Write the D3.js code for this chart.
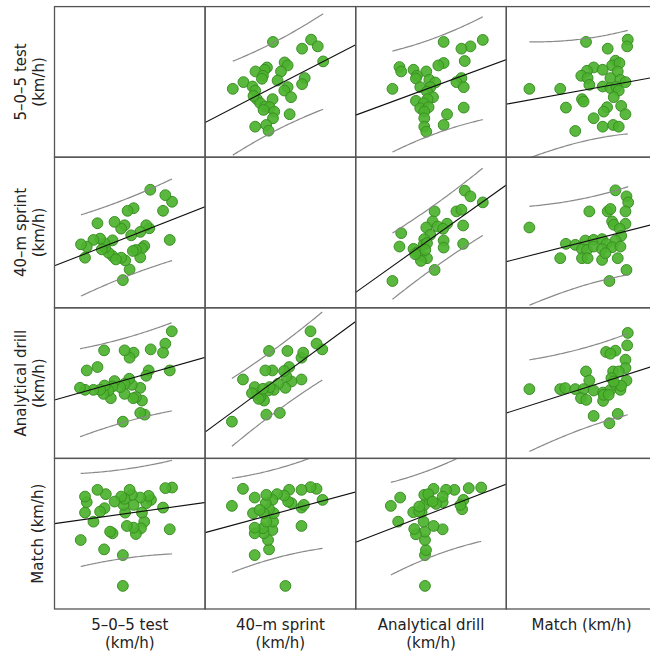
<!DOCTYPE html>
<html><head><meta charset="utf-8">
<script src="https://cdn.jsdelivr.net/npm/d3@7"></script>
<style>html,body{margin:0;padding:0;background:#fff;}svg{display:block;}</style>
</head><body>
<script>
// Variables (order of rows / columns)
const varLabels = [["5–0–5 test","(km/h)"],["40–m sprint","(km/h)"],["Analytical drill","(km/h)"],["Match (km/h)"]];
// Each variable on a common index scale
const varDomain = [0, 150];

// Pair data: [column variable, row variable] for the upper-triangle cell
// sprint (x) vs 5-0-5 (y)
const sprintVs505 = [[67.6,114.8],[105.6,117.1],[112.2,110.4],[96.6,108.1],[117.6,95.4],[79.2,94.4],[82.2,91.4],[61.6,89.4],[59.2,87.1],[50.2,85.4],[75.6,85.4],[57.6,81.1],[56.6,78.1],[72.2,76.4],[99.2,78.8],[96.6,72.8],[38.2,74.8],[27.6,68.1],[47.2,70.4],[49.9,66.4],[82.2,69.8],[78.9,66.4],[85.6,59.8],[51.6,57.8],[67.2,57.8],[54.9,53.8],[59.9,50.4],[64.2,49.8],[68.9,45.4],[58.2,47.1],[67.6,38.8],[84.2,42.8],[49.9,30.4],[60.9,32.1],[63.2,26.4],[48.2,61.1]];
// analytical (x) vs 5-0-5 (y)
const analyticalVs505 = [[87.6,114.8],[126.6,116.8],[114.3,110.4],[105.3,108.1],[108.6,95.8],[87.6,93.8],[82.3,91.4],[43.6,89.8],[45.3,85.4],[57.6,87.1],[70.3,85.4],[61,81.1],[60,78.4],[73.3,77.1],[105.3,78.8],[100.3,74.8],[107.6,69.8],[36.6,68.1],[79.3,74.4],[64.3,69.8],[74.3,69.8],[71,65.4],[77,59.8],[60,56.1],[71.6,57.8],[67.6,53.8],[64.3,48.8],[72.6,49.8],[68.3,45.4],[91,42.8],[107.6,49.4],[68.3,38.8],[87.6,32.1],[68.3,30.4],[70.3,25.4]];
// match (x) vs 5-0-5 (y)
const matchVs505 = [[79.4,114.8],[121,117.1],[120.4,110.4],[101,108.1],[108.7,96.1],[105.4,91.4],[112.7,93.8],[87,89.4],[96,87.1],[80.4,86.1],[74.7,81.1],[81,78.8],[111,85.4],[103.7,78.8],[113.7,77.1],[118.7,74.8],[82.7,72.1],[23,68.1],[53.7,68.1],[96,70.4],[103.7,68.8],[109.7,69.8],[112,66.4],[107,59.8],[75.4,57.8],[77,55.4],[59.4,49.4],[100.4,49.8],[97,45.4],[114.4,51.1],[118.7,42.8],[87,38.8],[68.7,26.1],[96,30.4],[106.4,32.1],[112,30.4]];
// analytical (x) vs sprint (y)
const analyticalVsSprint = [[108.6,116.7],[114.3,111],[126.6,105],[78.6,96],[100.3,96],[105.3,97.7],[76.6,86],[70.3,80],[81.6,81],[91,83.7],[87,78.7],[107,82],[45.3,74.4],[74.3,72.7],[68.3,68.4],[87.6,67],[87.6,60],[107,63.7],[43.6,61],[57.6,58.7],[67.6,62.7],[71,64.4],[61,55],[65,51.7],[71,49.4],[65,46.7],[59.3,53.4],[78.6,37.7],[36.6,26.7],[69.3,57.7]];
// match (x) vs sprint (y)
const matchVsSprint = [[108.7,117],[119.7,111],[121.4,105],[118.7,96],[82.7,96],[101,96],[103.7,98.4],[23,80],[105.4,86],[107,82.7],[118.7,83.7],[113,78.7],[59.4,63.7],[68.7,62.7],[78.7,67],[87,67.7],[95.4,68.4],[114.4,71.7],[108.7,67],[99.7,63.7],[75.4,58.4],[80.4,57.7],[87,61],[95.4,58.4],[105.4,60.4],[113.7,61],[53.7,49.4],[75.4,49.4],[81,49.4],[95.4,47.7],[111,49.4],[119.7,37.7],[102.7,26.7],[98.7,54.4]];
// match (x) vs analytical (y)
const matchVsAnalytical = [[121,125],[120.4,112.6],[99.4,106],[108.7,107.3],[103.7,104.3],[118.7,98.3],[118.7,90],[79.4,86.6],[106.4,86.6],[112,86.6],[104.7,80],[82.7,77.6],[119.7,77.6],[23,69],[53.7,69],[58.7,70],[68.7,69],[77,69],[87,67.6],[96.4,65.6],[103.7,68.3],[108.7,73.3],[113.7,68.3],[114.4,72.3],[74.4,60],[79.7,58.3],[96.4,57.3],[97,63.3],[87,42.3],[111,44.3],[102.7,35],[102,63.3],[107,76.6]];

// pairs keyed by "row,col" of the upper cell
const pairs = {"0,1": sprintVs505, "0,2": analyticalVs505, "0,3": matchVs505,
               "1,2": analyticalVsSprint, "1,3": matchVsSprint, "2,3": matchVsAnalytical};

const W = 650, H = 657;
const x0 = 54.5, y0 = 6.6, cs = 150.6, nv = 4;

const svg = d3.select("body").append("svg").attr("width", W).attr("height", H);
const defs = svg.append("defs");

function cellData(r, c) {
  if (r < c) return pairs[r + "," + c].map(d => ({x: d[0], y: d[1]}));
  return pairs[c + "," + r].map(d => ({x: d[1], y: d[0]}));
}

for (let r = 0; r < nv; r++) {
  for (let c = 0; c < nv; c++) {
    const left = x0 + c * cs, top = y0 + r * cs;
    const g = svg.append("g").attr("transform", `translate(${left},${top})`);
    const clipId = `clip-${r}-${c}`;
    defs.append("clipPath").attr("id", clipId).append("rect").attr("width", cs).attr("height", cs);
    if (r !== c) {
      const data = cellData(r, c);
      const xs = d3.scaleLinear().domain(varDomain).range([0, cs]);
      const ys = d3.scaleLinear().domain(varDomain).range([cs, 0]);
      const n = data.length;
      const mx = d3.mean(data, d => d.x), my = d3.mean(data, d => d.y);
      const sxx = d3.sum(data, d => (d.x - mx) ** 2);
      const sxy = d3.sum(data, d => (d.x - mx) * (d.y - my));
      const b = sxy / sxx, a = my - b * mx;
      const sse = d3.sum(data, d => (d.y - a - b * d.x) ** 2);
      const s = Math.sqrt(sse / (n - 2));
      const t = 2.03;
      const [xmin, xmax] = d3.extent(data, d => d.x);
      const gp = g.append("g").attr("clip-path", `url(#${clipId})`);
      gp.selectAll("circle").data(data).join("circle")
        .attr("cx", d => xs(d.x)).attr("cy", d => ys(d.y)).attr("r", 5.4)
        .attr("fill", "#4cb22e").attr("fill-opacity", 0.92)
        .attr("stroke", "#3a8f24").attr("stroke-width", 1);
      const pts = d3.range(0, 51).map(i => xmin + (xmax - xmin) * i / 50);
      const half = x => t * s * Math.sqrt(1 + 1 / n + (x - mx) ** 2 / sxx);
      const line = d3.line().x(d => xs(d[0])).y(d => ys(d[1])).curve(d3.curveLinear);
      gp.append("path").attr("d", line(pts.map(x => [x, a + b * x + half(x)])))
        .attr("fill", "none").attr("stroke", "#8a8a8a").attr("stroke-width", 1.2);
      gp.append("path").attr("d", line(pts.map(x => [x, a + b * x - half(x)])))
        .attr("fill", "none").attr("stroke", "#8a8a8a").attr("stroke-width", 1.2);
      gp.append("path").attr("d", line([[varDomain[0], a + b * varDomain[0]], [varDomain[1] + 5, a + b * (varDomain[1] + 5)]]))
        .attr("fill", "none").attr("stroke", "#111").attr("stroke-width", 1.1);
    }
    g.append("rect").attr("width", cs).attr("height", cs)
      .attr("fill", "none").attr("stroke", "#555").attr("stroke-width", 1.3);
  }
}

const font = "DejaVu Sans";
// Row labels
varLabels.forEach((lab, i) => {
  const cy = y0 + i * cs + cs / 2;
  const xsPos = lab.length === 2 ? [21, 39] : [38];
  lab.forEach((txt, k) => {
    svg.append("text").attr("transform", `translate(${xsPos[k]},${cy}) rotate(-90)`)
      .attr("text-anchor", "middle").attr("dominant-baseline", "central")
      .attr("font-family", font).attr("font-size", 15).attr("fill", "#222").text(txt);
  });
});
// Column labels
varLabels.forEach((lab, i) => {
  const cx = x0 + i * cs + cs / 2;
  lab.forEach((txt, k) => {
    svg.append("text").attr("x", cx).attr("y", 625 + k * 18)
      .attr("text-anchor", "middle").attr("dominant-baseline", "central")
      .attr("font-family", font).attr("font-size", 15).attr("fill", "#222").text(txt);
  });
});
</script>
</body></html>
